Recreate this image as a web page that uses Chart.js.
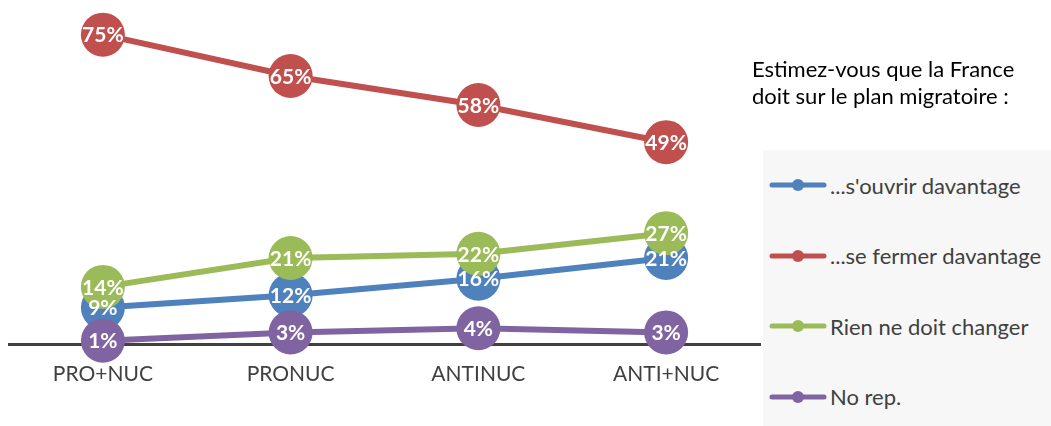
<!DOCTYPE html>
<html>
<head>
<meta charset="utf-8">
<script src="https://cdn.jsdelivr.net/npm/chart.js@4"></script>
<style>
    html, body { margin: 0; padding: 0; background: #fff; }
    .wrap { position: relative; width: 1051px; height: 426px; overflow: hidden; font-family: Lato, sans-serif; }
    .chart { position: absolute; left: 0; top: 0; width: 770px; height: 426px; }
    .question { position: absolute; left: 752px; top: 55px; font-size: 22px; line-height: 27px; color: #000; white-space: nowrap; }
    .legend { position: absolute; left: 763px; top: 150px; width: 288px; height: 276px; background: #f7f7f7; }
    .legend .item { position: absolute; left: 6px; height: 24px; display: flex; align-items: center; color: #404040; font-size: 22px; white-space: nowrap; }
    .legend svg { margin-right: 3px; }
</style>
</head>
<body>
<div class="wrap">
    <div class="chart"><canvas id="chart"></canvas></div>
    <div class="question">Estimez-vous que la France<br>doit sur le plan migratoire :</div>
    <div class="legend"></div>
</div>
<script>
(function() {

    var categories = ["PRO+NUC", "PRONUC", "ANTINUC", "ANTI+NUC"];
    var seriesNames = ["...s'ouvrir davantage", "...se fermer davantage", "Rien ne doit changer", "No rep."];
    var ouvrir = [9, 12, 16, 21];
    var fermer = [75, 65, 58, 49];
    var rien = [14, 21, 22, 27];
    var noRep = [1, 3, 4, 3];

    var colors = ["#4f81bd", "#c0504d", "#9bbb59", "#8064a2"];
    var series = [ouvrir, fermer, rien, noRep];

    // White percentage text in the middle of each marker
    var pointLabels = {
        id: "pointLabels",
        afterDatasetsDraw: function(chart) {
            var ctx = chart.ctx;
            ctx.save();
            ctx.font = "bold 21px Lato";
            ctx.fillStyle = "#fff";
            ctx.textAlign = "center";
            ctx.textBaseline = "middle";
            chart.data.datasets.forEach(function(ds, i) {
                var meta = chart.getDatasetMeta(i);
                meta.data.forEach(function(pt, j) {
                    ctx.fillText(ds.data[j] + "%", pt.x, pt.y + 1);
                });
            });
            ctx.restore();
        }
    };

    var datasets = [];
    for (var i = 0; i < series.length; i++) {
        datasets.push({
            label: seriesNames[i],
            data: series[i],
            borderColor: colors[i],
            backgroundColor: colors[i],
            pointBackgroundColor: colors[i],
            pointBorderWidth: 0,
            pointRadius: 22,
            pointHoverRadius: 22,
            borderWidth: 6,
            tension: 0,
            clip: false,
            // later series sit on top
            order: series.length - i
        });
    }

    var chart = new Chart(document.getElementById("chart"), {
        type: "line",
        data: {
            labels: categories,
            datasets: datasets
        },
        options: {
            responsive: true,
            maintainAspectRatio: false,
            animation: false,
            layout: {
                autoPadding: false,
                padding: {left: 9, right: 10, top: 14, bottom: 22}
            },
            plugins: {
                legend: {display: false},
                tooltip: {enabled: false}
            },
            scales: {
                x: {
                    offset: true,
                    grid: {display: false, drawTicks: false},
                    border: {display: true, color: "#404040", width: 3},
                    ticks: {
                        color: "#404040",
                        padding: 17,
                        font: {family: "Lato", size: 21}
                    }
                },
                y: {
                    display: false,
                    min: 0,
                    max: 80
                }
            }
        },
        plugins: [pointLabels]
    });

    // Legend on the right, one row per series
    var legend = document.querySelector(".legend");
    for (var k = 0; k < seriesNames.length; k++) {
        var item = document.createElement("div");
        item.className = "item";
        item.style.top = (23 + k * 70.5) + "px";
        item.innerHTML =
            '<svg width="58" height="14"><line x1="3" y1="7" x2="55" y2="7" stroke="' + colors[k] +
            '" stroke-width="5" stroke-linecap="round"/><circle cx="29" cy="7" r="6" fill="' + colors[k] + '"/></svg>';
        var text = document.createElement("span");
        text.textContent = seriesNames[k];
        item.appendChild(text);
        legend.appendChild(item);
    }

})();
</script>
</body>
</html>
